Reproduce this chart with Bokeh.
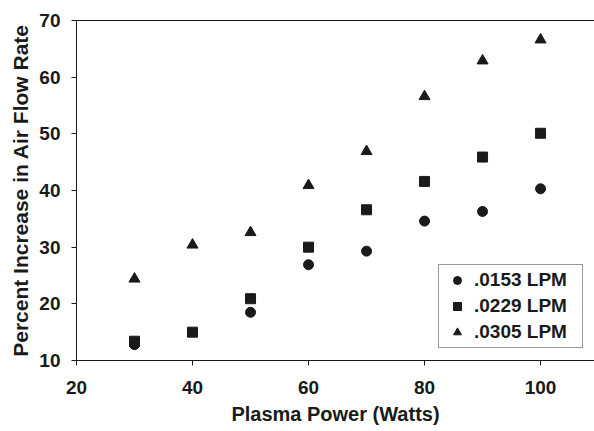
from bokeh.plotting import figure
from bokeh.models import Range1d, LinearAxis, Legend, LegendItem, FixedTicker
from bokeh.embed import file_html
from bokeh.resources import INLINE

# Plasma power settings (W) and percent increase in air flow rate per flow setting
power_0153 = [30, 50, 60, 70, 80, 90, 100]
increase_0153 = [12.8, 18.5, 26.9, 29.3, 34.6, 36.3, 40.3]

power_0229 = [30, 40, 50, 60, 70, 80, 90, 100]
increase_0229 = [13.4, 15.0, 20.9, 30.0, 36.6, 41.6, 45.9, 50.1]

power_0305 = [30, 40, 50, 60, 70, 80, 90, 100]
increase_0305 = [24.4, 30.4, 32.6, 40.9, 46.9, 56.6, 62.9, 66.6]

series_labels = [".0153 LPM", ".0229 LPM", ".0305 LPM"]
x_ticks = [20, 40, 60, 80, 100]
y_ticks = [10, 20, 30, 40, 50, 60, 70]

FONT = "Liberation Sans"
INK = "#1a1a1a"

p = figure(width=594, height=431, output_backend="svg", toolbar_location=None,
           x_range=Range1d(20, 109.3), y_range=Range1d(10, 70),
           min_border_left=76, min_border_right=0, min_border_top=20,
           min_border_bottom=71, x_axis_label="Plasma Power (Watts)",
           y_axis_label="Percent Increase in Air Flow Rate")
p.grid.visible = False
p.outline_line_color = None
p.background_fill_color = "white"
p.border_fill_color = "white"

for ax, ticks in ((p.xaxis[0], x_ticks), (p.yaxis[0], y_ticks)):
    ax.ticker = FixedTicker(ticks=ticks)
    ax.minor_tick_line_color = None
    ax.major_tick_in = 0
    ax.major_tick_out = 5
    ax.axis_line_color = INK
    ax.major_tick_line_color = INK
    ax.major_label_text_font = FONT
    ax.major_label_text_font_style = "bold"
    ax.major_label_text_font_size = "19px"
    ax.major_label_text_color = INK
    ax.axis_label_text_font = FONT
    ax.axis_label_text_font_style = "bold"
    ax.axis_label_text_color = INK

p.xaxis[0].major_label_standoff = 15
p.xaxis[0].axis_label_standoff = 6
p.xaxis[0].axis_label_text_font_size = "20px"
p.yaxis[0].major_label_standoff = 11
p.yaxis[0].axis_label_standoff = 4
p.yaxis[0].axis_label_text_font_size = "21px"

# Plain top border line, no ticks or labels
top = LinearAxis(ticker=FixedTicker(ticks=[]), major_tick_line_color=None,
                 minor_tick_line_color=None, axis_line_color=INK)
p.add_layout(top, "above")

r1 = p.scatter(power_0153, increase_0153, marker="circle", size=10,
               fill_color=INK, line_color=INK)
r2 = p.scatter(power_0229, increase_0229, marker="square", size=10,
               fill_color=INK, line_color=INK)
r3 = p.scatter(power_0305, increase_0305, marker="triangle", size=11,
               fill_color=INK, line_color=INK)

legend = Legend(
    items=[LegendItem(label=series_labels[0], renderers=[r1]),
           LegendItem(label=series_labels[1], renderers=[r2]),
           LegendItem(label=series_labels[2], renderers=[r3])],
    location=(362, 12), padding=4, spacing=4, margin=0,
    glyph_width=28, glyph_height=20, label_height=20, label_width=104,
    label_standoff=3,
    label_text_font=FONT, label_text_font_style="bold",
    label_text_font_size="19px", label_text_color=INK,
    border_line_color="#333333", border_line_width=1,
    background_fill_color="white", background_fill_alpha=1.0,
)
p.add_layout(legend, "center")

open("out.html", "w").write(file_html(p, INLINE))
